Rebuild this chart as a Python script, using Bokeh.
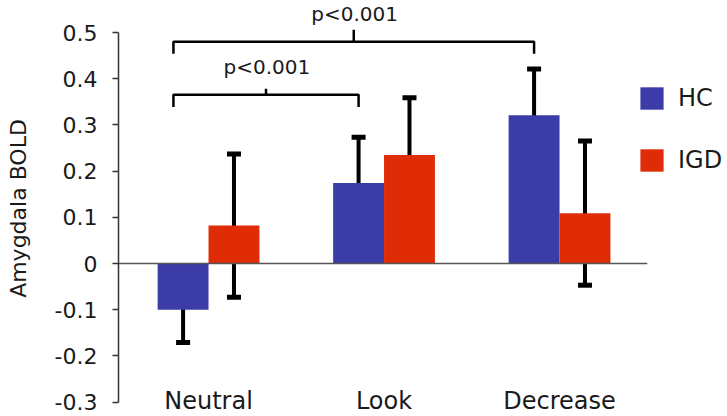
from bokeh.plotting import figure
from bokeh.models import (Range1d, Whisker, ColumnDataSource, Legend, LegendItem,
                          FixedTicker, TeeHead)
from bokeh.core.properties import value
from bokeh.embed import file_html
from bokeh.resources import INLINE

# ---- data ----
categories = ["Neutral", "Look", "Decrease"]
hc_mean = [-0.100, 0.174, 0.321]
igd_mean = [0.082, 0.235, 0.109]
hc_err = [0.071, 0.099, 0.100]
igd_err = [0.155, 0.124, 0.156]
series_names = ["HC", "IGD"]
y_ticks = [-0.3, -0.2, -0.1, 0, 0.1, 0.2, 0.3, 0.4, 0.5]
y_tick_labels = ["-0.3", "-0.2", "-0.1", "0", "0.1", "0.2", "0.3", "0.4", "0.5"]
y_title = "Amygdala BOLD"
comp_pairs = [("Neutral", "Look"), ("Neutral", "Decrease")]
comp_labels = ["p<0.001", "p<0.001"]
comp_levels = [0.365, 0.480]

# ---- styling / layout ----
FONT = "DejaVu Sans"
HC_COLOR = "#3b3ca8"
IGD_COLOR = "#e02c06"
BAR_W = 0.29
OFF = 0.145
PX_X = 175.5          # pixels per category step
PX_Y = 462.0          # pixels per 1.0 on the y axis
W, H = 727, 416
LEFT = 118
ZERO_PX = 263
x_start = -0.513
x_end = x_start + (W - LEFT) / PX_X
y_start = -(H - ZERO_PX) / PX_Y
y_end = ZERO_PX / PX_Y

xs = list(range(len(categories)))

p = figure(width=W, height=H, x_range=Range1d(x_start, x_end),
           y_range=Range1d(y_start, y_end), output_backend="svg",
           toolbar_location=None, x_axis_location=None,
           min_border_left=LEFT, min_border_right=0, min_border_top=0,
           min_border_bottom=0)
p.outline_line_color = None
p.xgrid.visible = False
p.ygrid.visible = False
p.background_fill_color = "white"
p.border_fill_color = "white"

hc_src = ColumnDataSource(dict(x=[x - OFF for x in xs], top=hc_mean,
                               upper=[m + e for m, e in zip(hc_mean, hc_err)],
                               lower=[m - e for m, e in zip(hc_mean, hc_err)]))
igd_src = ColumnDataSource(dict(x=[x + OFF for x in xs], top=igd_mean,
                                upper=[m + e for m, e in zip(igd_mean, igd_err)],
                                lower=[m - e for m, e in zip(igd_mean, igd_err)]))

r_hc = p.vbar(x="x", top="top", bottom=0, width=BAR_W, source=hc_src,
              fill_color=HC_COLOR, line_color=None)
r_igd = p.vbar(x="x", top="top", bottom=0, width=BAR_W, source=igd_src,
               fill_color=IGD_COLOR, line_color=None)

# zero line
p.segment(x0=[x_start], y0=[0], x1=[len(categories) - 0.5], y1=[0],
          line_color="#555555", line_width=1.5)

for src in (hc_src, igd_src):
    w = Whisker(base="x", upper="upper", lower="lower", source=src,
                line_color="black", line_width=4,
                upper_head=TeeHead(size=14, line_width=5, line_color="black"),
                lower_head=TeeHead(size=14, line_width=5, line_color="black"))
    p.add_layout(w)

# significance brackets
tick_up = [0.013, 0.026]
drop = 0.026
for (a, b), lvl, lab, tu in zip(comp_pairs, comp_levels, comp_labels, tick_up):
    xa = categories.index(a) - OFF - 0.055
    xb = categories.index(b) - OFF
    xm = (xa + xb) / 2
    p.multi_line(xs=[[xa, xa, xb, xb], [xm, xm]],
                 ys=[[lvl - drop, lvl, lvl, lvl - drop], [lvl, lvl + tu]],
                 line_color="black", line_width=2.5)
    ty = min(lvl + 0.06, y_end - 0.026)
    p.text(x=[xm + 0.005], y=[ty], text=[lab], text_align="center",
           text_baseline="middle", text_font=value(FONT),
           text_font_size="20px", text_color="#1a1a1a")

# category labels
p.text(x=xs, y=[y_start + 16 / PX_Y] * len(xs), text=categories,
       text_align="center", text_baseline="middle", text_font=value(FONT),
       text_font_size="24px", text_color="#1a1a1a")

# y axis
ax = p.yaxis[0]
ax.ticker = FixedTicker(ticks=y_ticks)
ax.major_label_overrides = {t: l for t, l in zip(y_ticks, y_tick_labels)}
ax.bounds = (y_ticks[0], y_ticks[-1])
ax.axis_label = y_title
ax.axis_label_text_font = FONT
ax.axis_label_text_font_size = "22px"
ax.axis_label_text_font_style = "normal"
ax.axis_label_text_color = "#1a1a1a"
ax.axis_label_standoff = 21
ax.major_label_text_font = FONT
ax.major_label_text_font_size = "22px"
ax.major_label_text_color = "#1a1a1a"
ax.major_label_standoff = 15
ax.major_tick_in = 0
ax.major_tick_out = 6
ax.minor_tick_in = 0
ax.minor_tick_out = 0
ax.axis_line_color = "#333333"
ax.axis_line_width = 1.5
ax.major_tick_line_color = "#333333"
ax.major_tick_line_width = 1.5

legend = Legend(items=[LegendItem(label=series_names[0], renderers=[r_hc]),
                       LegendItem(label=series_names[1], renderers=[r_igd])],
                location=(519, 242), glyph_width=29, glyph_height=28,
                label_height=28, spacing=34, padding=0, margin=0,
                label_standoff=12, label_text_font=FONT,
                label_text_font_size="24px", label_text_color="#1a1a1a",
                border_line_alpha=0, background_fill_alpha=0)
p.add_layout(legend)

open("out.html", "w").write(file_html(p, INLINE))
